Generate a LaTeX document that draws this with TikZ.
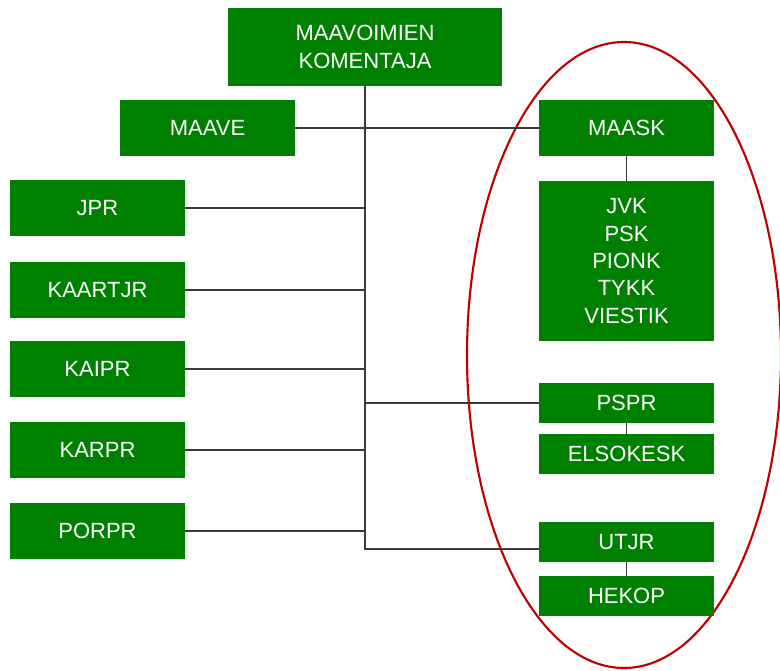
\documentclass[tikz,border=0pt]{standalone}
\usepackage{fontspec}
\setmainfont{Liberation Sans}
\definecolor{boxgreen}{HTML}{008000}
\definecolor{ovalred}{HTML}{C00000}
\definecolor{linegray}{HTML}{3A3A3A}
\begin{document}
\begin{tikzpicture}[x=0.75pt,y=-0.75pt,
  unit/.style={fill=boxgreen, text=white, inner sep=0pt, align=center,
    font=\fontsize{16.5pt}{20.5pt}\selectfont, minimum width=131.25pt,
    execute at begin node={\vspace*{3pt}}},
  tall/.style={minimum height=42pt},
  short/.style={minimum height=30pt},
  conn/.style={draw=linegray, line width=1.1pt}]
\useasboundingbox (0,0) rectangle (780,670);
\fill[white] (0,0) rectangle (780,670);
% oval
\draw[ovalred, line width=1.6pt] (624,355) ellipse [x radius=157, y radius=313];
% boxes
\node[unit, minimum width=205.5pt, minimum height=58.5pt] (top) at (365,47) {MAAVOIMIEN\\KOMENTAJA};
\node[unit, tall] (maave) at (207.5,128) {MAAVE};
\node[unit, tall] (jpr) at (97.5,208) {JPR};
\node[unit, tall] (kaartjr) at (97.5,290) {KAARTJR};
\node[unit, tall] (kaipr) at (97.5,369) {KAIPR};
\node[unit, tall] (karpr) at (97.5,450) {KARPR};
\node[unit, tall] (porpr) at (97.5,531) {PORPR};
\node[unit, tall] (maask) at (626.5,128) {MAASK};
\node[unit, minimum height=120pt] (big) at (626.5,261) {JVK\\PSK\\PIONK\\TYKK\\VIESTIK};
\node[unit, short] (pspr) at (626.5,403) {PSPR};
\node[unit, short] (elso) at (626.5,454) {ELSOKESK};
\node[unit, short] (utjr) at (626.5,542) {UTJR};
\node[unit, short] (hekop) at (626.5,596) {HEKOP};
% connectors
\coordinate (utjrin) at (539,549);
\coordinate (spinebot) at (top.south |- utjrin);
\draw[conn] (top.south) -- (spinebot) -- (utjrin);
\draw[conn] (maave.east) -- (maask.west);
\foreach \n in {jpr,kaartjr,kaipr,karpr,porpr}
  \draw[conn] (\n.east) -- (\n.east -| top.south);
\draw[conn] (pspr.west -| top.south) -- (pspr.west);
\draw[conn] (maask.south) -- (big.north);
\draw[conn] (pspr.south) -- (elso.north);
\draw[conn] (utjr.south) -- (hekop.north);
\end{tikzpicture}
\end{document}
